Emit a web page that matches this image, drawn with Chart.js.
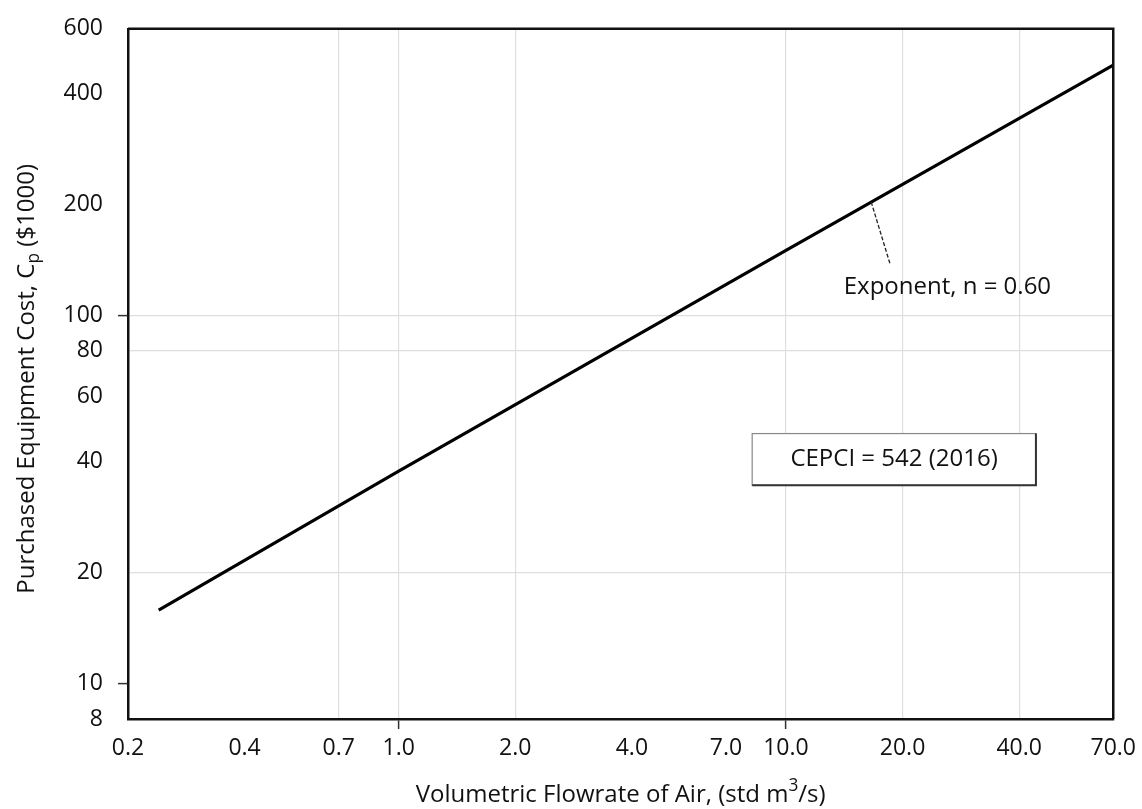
<!DOCTYPE html>
<html>
<head>
<meta charset="utf-8">
<script src="https://cdn.jsdelivr.net/npm/chart.js@4/dist/chart.umd.min.js"></script>
<style>
body{margin:0;background:#fff}
#wrap{width:1142px;height:809px}
</style>
</head>
<body>
<div id="wrap"><canvas id="costChart" width="1142" height="809"></canvas></div>
<script>
// values
const flowrate=[0.24,1.0,10.0,70.0]
const cost=[15.8,37.7,150,478]
const xTicks=[0.2,0.4,0.7,1.0,2.0,4.0,7.0,10.0,20.0,40.0,70.0]
const yTicks=[8,10,20,40,60,80,100,200,400,600]
const xGridAt=[0.7,1.0,2.0,10.0,20.0,40.0]
const yGridAt=[20,80,100]
const xMarkAt=[1.0,10.0]
const yMarkAt=[10,100]

const FONT='"Open Sans", sans-serif'
const GRID='#dedede'
const INK='#111'

// where the notes sit, in data units
const note={text:'Exponent, n = 0.60',x:14.1,y:119,leadFrom:[16.6,203],leadTo:[18.6,137]}
const cepci={text:'CEPCI = 542 (2016)',x1:8.18,x2:44.2,y1:47.7,y2:34.5}

const has=(arr,v)=>arr.some(g=>Math.abs(g-v)<1e-9)

function drawRich(ctx,parts,x,y,size){
// parts: [text, 'sup'|'sub'|undefined]
let w=0
parts.forEach(p=>{ctx.font=(p[1]?size*0.72:size)+'px '+FONT;w+=ctx.measureText(p[0]).width})
let cx=x-w/2
parts.forEach(p=>{
ctx.font=(p[1]?size*0.72:size)+'px '+FONT
let dy=p[1]==='sup'?-size*0.38:p[1]==='sub'?size*0.28:0
ctx.fillText(p[0],cx,y+dy)
cx+=ctx.measureText(p[0]).width
})
}

const extrasPlugin={
id:'extras',
afterDraw(chart){
const {ctx,chartArea:a,scales:{x,y}}=chart
ctx.save()
// frame top/right
ctx.strokeStyle=INK
ctx.lineWidth=2.5
ctx.beginPath()
ctx.moveTo(a.left,a.top);ctx.lineTo(a.right,a.top);ctx.lineTo(a.right,a.bottom)
ctx.stroke()

// leader line + note
ctx.strokeStyle='#222';ctx.lineWidth=1.3;ctx.setLineDash([4,2])
ctx.beginPath()
ctx.moveTo(x.getPixelForValue(note.leadFrom[0]),y.getPixelForValue(note.leadFrom[1]))
ctx.lineTo(x.getPixelForValue(note.leadTo[0]),y.getPixelForValue(note.leadTo[1]))
ctx.stroke();ctx.setLineDash([])
ctx.fillStyle=INK;ctx.font='24px '+FONT;ctx.textAlign='left';ctx.textBaseline='middle'
ctx.fillText(note.text,x.getPixelForValue(note.x),y.getPixelForValue(note.y))

// CEPCI box
let bx1=x.getPixelForValue(cepci.x1),bx2=x.getPixelForValue(cepci.x2)
let by1=y.getPixelForValue(cepci.y1),by2=y.getPixelForValue(cepci.y2)
ctx.fillStyle='#fff';ctx.fillRect(bx1,by1,bx2-bx1,by2-by1)
ctx.strokeStyle='#888';ctx.lineWidth=1.2;ctx.strokeRect(bx1,by1,bx2-bx1,by2-by1)
ctx.strokeStyle='#333';ctx.lineWidth=2
ctx.beginPath();ctx.moveTo(bx2,by1);ctx.lineTo(bx2,by2);ctx.lineTo(bx1,by2);ctx.stroke()
ctx.fillStyle=INK;ctx.textAlign='center'
ctx.fillText(cepci.text,(bx1+bx2)/2,(by1+by2)/2)

// axis titles
ctx.textAlign='left';ctx.textBaseline='middle';ctx.fillStyle=INK
drawRich(ctx,[['Volumetric Flowrate of Air, (std m'],['3','sup'],['/s)']],(a.left+a.right)/2,795,24)
ctx.translate(27,(a.top+a.bottom)/2+5)
ctx.rotate(-Math.PI/2)
drawRich(ctx,[['Purchased Equipment Cost, C'],['p','sub'],[' ($1000)']],0,0,24)
ctx.restore()
}
}

new Chart(document.getElementById('costChart'),{
type:'line',
data:{
datasets:[{
label:'Cp',
data:flowrate.map((v,i)=>({x:v,y:cost[i]})),
borderColor:'#000',
borderWidth:3.2,
pointRadius:0,
tension:0
}]
},
options:{
responsive:false,
animation:false,
layout:{padding:{top:25,right:24,left:0,bottom:0}},
plugins:{legend:{display:false},tooltip:{enabled:false},title:{display:false}},
scales:{
x:{
type:'logarithmic',
min:0.2,max:70,
afterFit:s=>{s.height=90},
afterBuildTicks:s=>{s.ticks=xTicks.map(v=>({value:v}))},
border:{color:INK,width:2.5},
grid:{
color:c=>c.tick&&has(xGridAt,c.tick.value)?GRID:'rgba(255,255,255,0)',
tickColor:c=>c.tick&&has(xMarkAt,c.tick.value)?'#333':'rgba(255,255,255,0)',
tickLength:10,lineWidth:1.2,tickWidth:1.5
},
ticks:{
autoSkip:false,maxRotation:0,padding:6,color:INK,
font:{family:FONT,size:23},
callback:v=>Number(v).toFixed(1)
}
},
y:{
type:'logarithmic',
min:8,max:600,
afterFit:s=>{s.width=128},
afterBuildTicks:s=>{s.ticks=yTicks.map(v=>({value:v}))},
border:{color:INK,width:2.5},
grid:{
color:c=>c.tick&&has(yGridAt,c.tick.value)?GRID:'rgba(255,255,255,0)',
tickColor:c=>c.tick&&has(yMarkAt,c.tick.value)?'#333':'rgba(255,255,255,0)',
tickLength:10,lineWidth:1.2,tickWidth:1.5
},
ticks:{
autoSkip:false,padding:15,color:INK,
font:{family:FONT,size:23},
callback:v=>String(v)
}
}
}
},
plugins:[extrasPlugin]
})
</script>
</body>
</html>
